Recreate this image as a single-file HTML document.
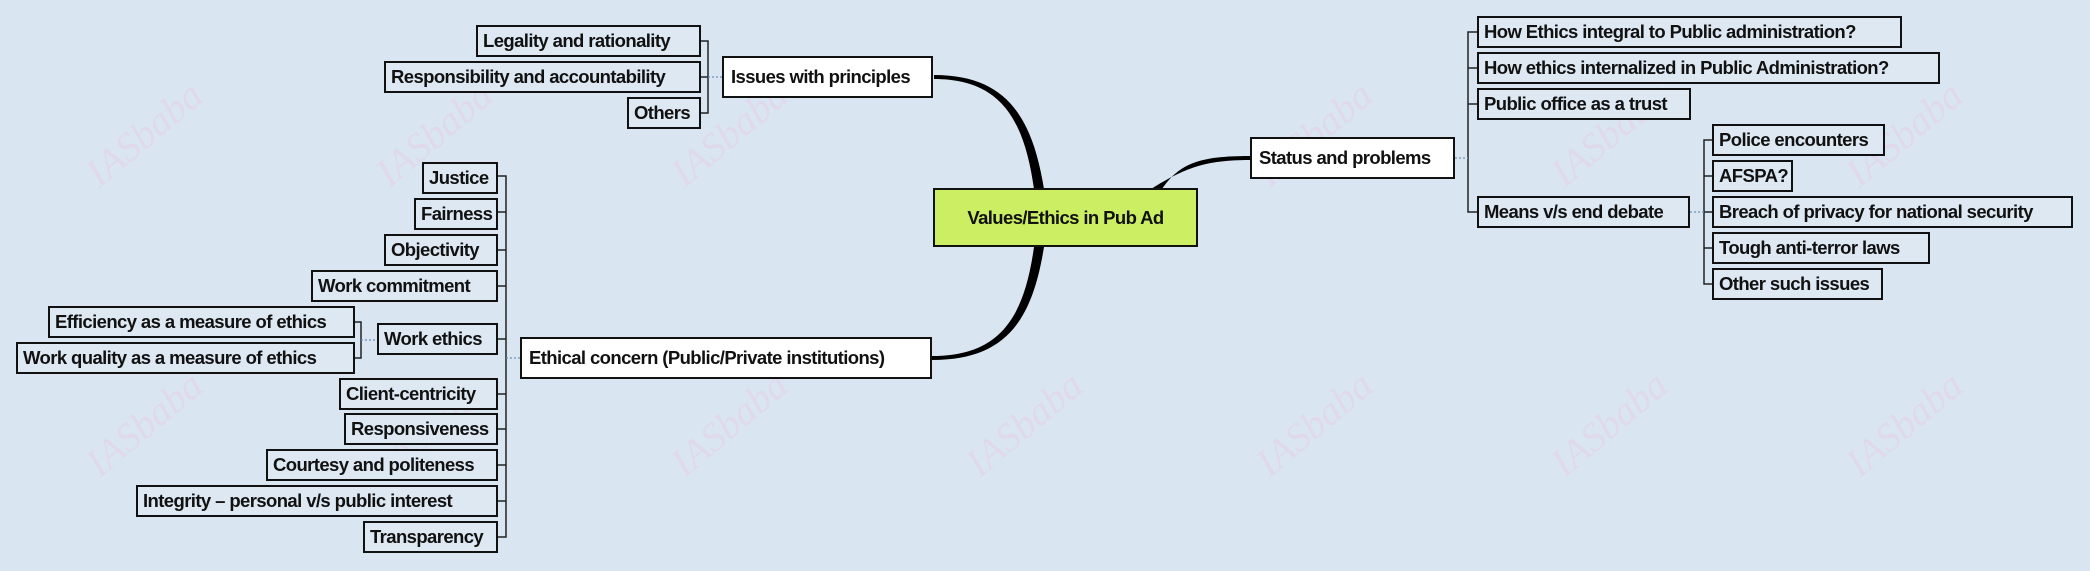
<!DOCTYPE html>
<html><head><meta charset="utf-8"><style>
html,body{margin:0;padding:0}
body{width:2090px;height:571px;position:relative;overflow:hidden;background:#d9e6f2;font-family:"Liberation Sans",sans-serif}
.b{position:absolute;box-sizing:border-box;border:2px solid #111;background:#dde8f3;font-weight:bold;font-size:18.5px;color:#111;white-space:nowrap;display:flex;align-items:center;padding-left:5px;height:32px;letter-spacing:-0.6px;overflow:hidden}
.w{background:#fff;height:42px;padding-left:7px}
.wm{position:absolute;font-family:"Liberation Serif",serif;font-style:italic;font-size:40px;color:#e9c9e6;transform:rotate(-40deg);opacity:0.45}
svg{position:absolute;left:0;top:0}
</style></head><body>
<div class="wm" style="left:75px;top:110px">IASbaba</div>
<div class="wm" style="left:365px;top:110px">IASbaba</div>
<div class="wm" style="left:660px;top:110px">IASbaba</div>
<div class="wm" style="left:1245px;top:110px">IASbaba</div>
<div class="wm" style="left:1540px;top:110px">IASbaba</div>
<div class="wm" style="left:1835px;top:110px">IASbaba</div>
<div class="wm" style="left:75px;top:400px">IASbaba</div>
<div class="wm" style="left:365px;top:400px">IASbaba</div>
<div class="wm" style="left:660px;top:400px">IASbaba</div>
<div class="wm" style="left:955px;top:400px">IASbaba</div>
<div class="wm" style="left:1245px;top:400px">IASbaba</div>
<div class="wm" style="left:1540px;top:400px">IASbaba</div>
<div class="wm" style="left:1835px;top:400px">IASbaba</div>
<svg width="2090" height="571">
<g fill="#000" stroke="none">
<path d="M1044 189 C1032 115 1005 75 934 75 L934 79 C1000 79 1024 118 1034 189 Z"/>
<path d="M1044 247 C1032 322 1005 360 932 360 L932 356 C1000 356 1024 318 1034 247 Z"/>
<path d="M1162 189 C1180 163 1200 156 1250 156 L1250 160 C1205 160 1185 168 1151 189 Z"/>
</g>
<g fill="none" stroke="#222" stroke-width="1.5">
<path d="M701 41 H708 V113 H701 M701 77 H708"/>
<path d="M498 176 H506 V537 H498"/>
<path d="M498 212H506 M498 250H506 M498 286H506 M498 339H506 M498 394H506 M498 429H506 M498 465H506 M498 501H506"/>
<path d="M355 322 H361 V358 H355"/>
<path d="M1477 32 H1468 V212 H1477 M1477 68 H1468 M1477 104 H1468"/>
<path d="M1712 140 H1704 V284 H1712 M1712 176H1704 M1712 212H1704 M1712 248H1704"/>
</g>
<g stroke="#6a8fb8" stroke-width="1.2" stroke-dasharray="2 2">
<path d="M708 77 H722 M506 358 H520 M361 340 H377 M1455 158 H1468 M1690 212 H1704"/>
</g>
</svg>
<div class="b" style="left:476px;top:25px;width:225px">Legality and rationality</div>
<div class="b" style="left:384px;top:61px;width:317px">Responsibility and accountability</div>
<div class="b" style="left:627px;top:97px;width:74px">Others</div>
<div class="b w" style="left:722px;top:56px;width:211px">Issues with principles</div>
<div class="b" style="left:933px;top:188px;width:265px;height:59px;background:#cbee63;justify-content:center;padding-left:0">Values/Ethics in Pub Ad</div>
<div class="b w" style="left:520px;top:337px;width:412px">Ethical concern (Public/Private institutions)</div>
<div class="b" style="left:422px;top:162px;width:76px">Justice</div>
<div class="b" style="left:414px;top:198px;width:84px">Fairness</div>
<div class="b" style="left:384px;top:234px;width:114px">Objectivity</div>
<div class="b" style="left:311px;top:270px;width:187px">Work commitment</div>
<div class="b" style="left:377px;top:323px;width:121px">Work ethics</div>
<div class="b" style="left:48px;top:306px;width:307px">Efficiency as a measure of ethics</div>
<div class="b" style="left:16px;top:342px;width:339px">Work quality as a measure of ethics</div>
<div class="b" style="left:339px;top:378px;width:159px">Client-centricity</div>
<div class="b" style="left:344px;top:413px;width:154px">Responsiveness</div>
<div class="b" style="left:266px;top:449px;width:232px">Courtesy and politeness</div>
<div class="b" style="left:136px;top:485px;width:362px">Integrity – personal v/s public interest</div>
<div class="b" style="left:363px;top:521px;width:135px">Transparency</div>
<div class="b w" style="left:1250px;top:137px;width:205px">Status and problems</div>
<div class="b" style="left:1477px;top:16px;width:425px">How Ethics integral to Public administration?</div>
<div class="b" style="left:1477px;top:52px;width:463px">How ethics internalized in Public Administration?</div>
<div class="b" style="left:1477px;top:88px;width:214px">Public office as a trust</div>
<div class="b" style="left:1477px;top:196px;width:213px">Means v/s end debate</div>
<div class="b" style="left:1712px;top:124px;width:173px">Police encounters</div>
<div class="b" style="left:1712px;top:160px;width:81px">AFSPA?</div>
<div class="b" style="left:1712px;top:196px;width:361px">Breach of privacy for national security</div>
<div class="b" style="left:1712px;top:232px;width:218px">Tough anti-terror laws</div>
<div class="b" style="left:1712px;top:268px;width:171px">Other such issues</div>
</body></html>
